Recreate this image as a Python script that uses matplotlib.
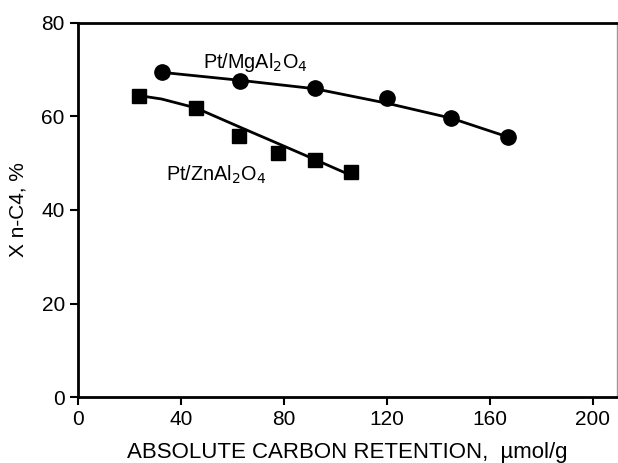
import matplotlib
matplotlib.use("Agg")
import matplotlib.pyplot as plt

plt.rcParams['font.family'] = ['Liberation Sans', 'DejaVu Sans']

# Pt/MgAl2O4 measured points
mg_x = [32.5, 62.9, 92.0, 120.1, 145.1, 167.1]
mg_y = [69.4, 67.5, 66.0, 64.0, 59.7, 55.6]
# Pt/MgAl2O4 fitted curve
mg_fit_x = [32.5, 62.9, 92.0, 120.1, 145.1, 167.1]
mg_fit_y = [69.4, 67.7, 65.9, 62.8, 59.6, 55.6]

# Pt/ZnAl2O4 measured points
zn_x = [23.8, 45.8, 62.5, 77.8, 92.0, 106.3]
zn_y = [64.3, 61.8, 55.8, 52.2, 50.7, 48.2]
# Pt/ZnAl2O4 fitted curve
zn_fit_x = [24.1, 32.5, 45.8, 62.9, 77.7, 92.0, 106.9]
zn_fit_y = [64.4, 63.7, 61.8, 57.7, 54.2, 50.8, 47.2]

xticks = [0, 40, 80, 120, 160, 200]
yticks = [0, 20, 40, 60, 80]

fig = plt.figure(figsize=(6.18, 4.63), dpi=100)
ax = fig.add_axes([0.1262, 0.1419, 0.8722, 0.8091])

ax.plot(mg_fit_x, mg_fit_y, color="black", lw=2)
ax.plot(mg_x, mg_y, "o", color="black", ms=11)
ax.plot(zn_fit_x, zn_fit_y, color="black", lw=2)
ax.plot(zn_x, zn_y, "s", color="black", ms=10)

ax.text(48.5, 71.6, r"Pt/MgAl$_2$O$_4$", fontsize=14.3, va="center", ha="left")
ax.text(34.2, 47.5, r"Pt/ZnAl$_2$O$_4$", fontsize=14.3, va="center", ha="left")

ax.set_xlim(0, 209.5)
ax.set_ylim(0, 80)
ax.set_xticks(xticks)
ax.set_yticks(yticks)
ax.tick_params(direction="out", width=1.5, length=6, labelsize=15, colors="black")

for s in ["left", "bottom", "top"]:
    ax.spines[s].set_linewidth(2)
ax.spines["right"].set_linewidth(1)
ax.spines["right"].set_color("#999999")

ax.set_xlabel("ABSOLUTE CARBON RETENTION,  \u00b5mol/g", fontsize=16, labelpad=9)
ax.set_ylabel("X n-C4, %", fontsize=15, labelpad=10)

plt.savefig("out.png", dpi=100)
